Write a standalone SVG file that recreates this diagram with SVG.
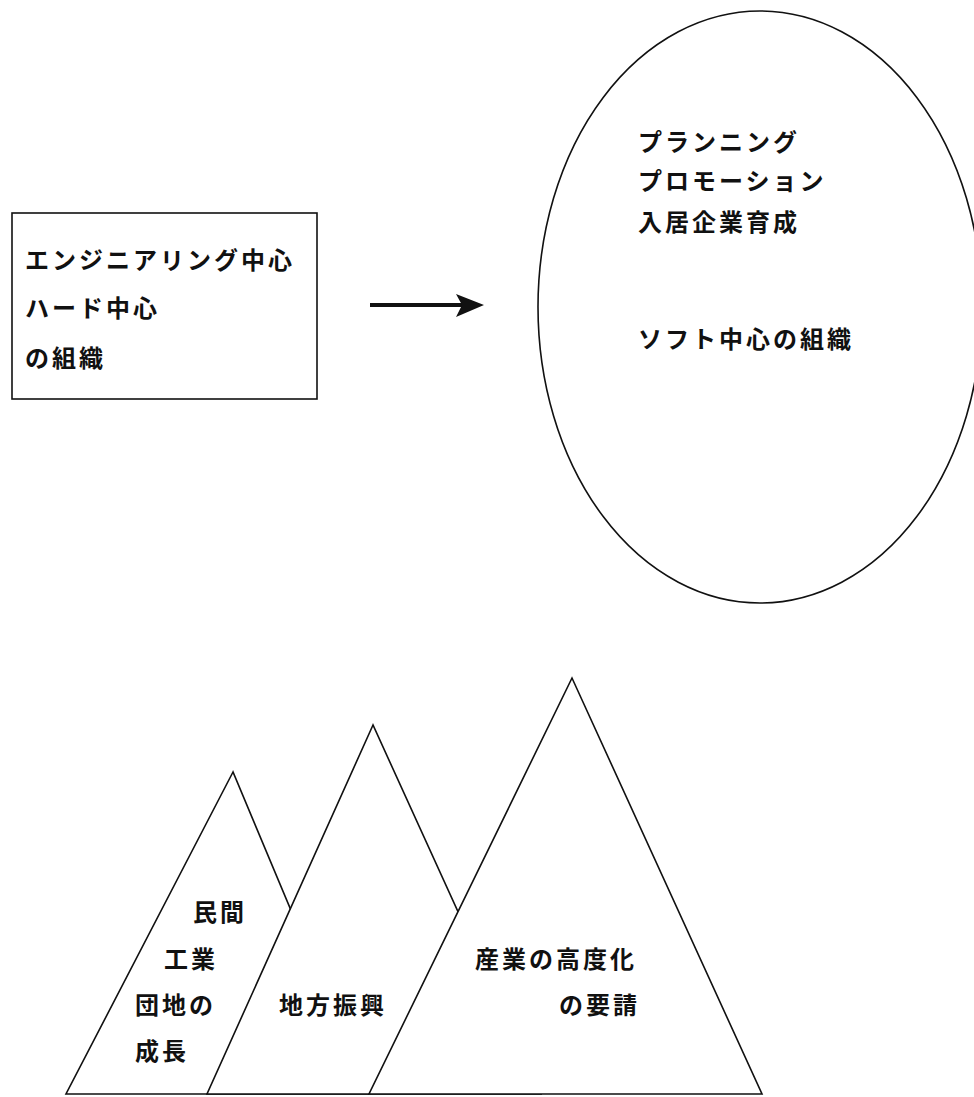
<svg xmlns="http://www.w3.org/2000/svg" width="974" height="1097" viewBox="0 0 974 1097">
<defs>
<style>
.t{font-family:"Noto Sans CJK JP","Noto Sans CJK SC",sans-serif;font-size:24px;font-weight:bold;letter-spacing:3px;fill:#111}
.s{fill:#fff;stroke:#111;stroke-width:1.6}
</style>
<marker id="ah" markerWidth="8" markerHeight="8" refX="7" refY="4" orient="auto" markerUnits="userSpaceOnUse">
<path d="M0,0 L8,4 L0,8 L2,4 Z" fill="#111"/>
</marker>
</defs>
<rect width="974" height="1097" fill="#fff"/>
<g id="node-hard">
<rect class="s" x="12" y="213" width="305" height="186"/>
<text class="t" x="25" y="269">エンジニアリング中心</text>
<text class="t" x="25" y="317">ハード中心</text>
<text class="t" x="25" y="367">の組織</text>
</g>
<g id="node-soft">
<ellipse class="s" cx="760" cy="307" rx="222" ry="296"/>
<text class="t" x="638" y="151">プランニング</text>
<text class="t" x="638" y="190">プロモーション</text>
<text class="t" x="638" y="231">入居企業育成</text>
<text class="t" x="638" y="348">ソフト中心の組織</text>
</g>
<g id="connectors">
<line x1="370" y1="305" x2="462" y2="305" stroke="#111" stroke-width="4"/>
<path d="M456,294 L484,305 L456,317 L462,305 Z" fill="#111"/>
</g>
<g id="node-mountain1">
<polygon class="s" points="233,772 66,1094 368,1094"/>
<text class="t" x="193" y="921">民間</text>
<text class="t" x="164" y="968">工業</text>
<text class="t" x="135" y="1014">団地の</text>
<text class="t" x="135" y="1060">成長</text>
</g>
<g id="node-mountain2">
<polygon class="s" points="373,725 207,1094 541,1094"/>
<text class="t" x="279" y="1014">地方振興</text>
</g>
<g id="node-mountain3">
<polygon class="s" points="572,678 369,1094 762,1094"/>
<text class="t" x="475" y="968">産業の高度化</text>
<text class="t" x="559" y="1014">の要請</text>
</g>
</svg>
